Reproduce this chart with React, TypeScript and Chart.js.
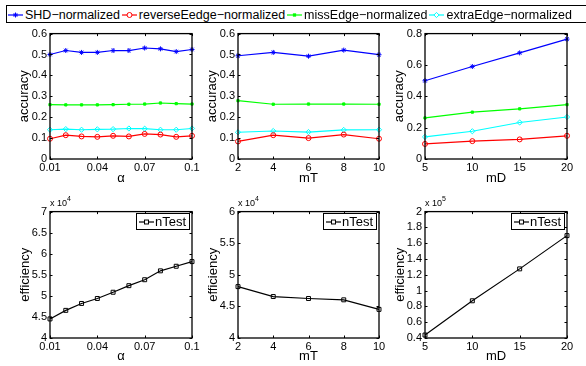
import React, { useEffect, useRef } from "react";
import { Chart, registerables } from "chart.js";

Chart.register(...registerables);

const FONT = "'Liberation Sans', Arial, Helvetica, sans-serif";

// ---------------- data ----------------
const alphaValues = [0.01, 0.02, 0.03, 0.04, 0.05, 0.06, 0.07, 0.08, 0.09, 0.1];
const mTValues = [2, 4, 6, 8, 10];
const mDValues = [5, 10, 15, 20];

const shdAlpha = [0.5, 0.519, 0.51, 0.51, 0.519, 0.519, 0.531, 0.527, 0.514, 0.524];
const reverseAlpha = [0.097, 0.114, 0.108, 0.106, 0.111, 0.108, 0.12, 0.117, 0.106, 0.111];
const missAlpha = [0.26, 0.259, 0.259, 0.259, 0.26, 0.262, 0.263, 0.268, 0.265, 0.263];
const extraAlpha = [0.14, 0.143, 0.14, 0.142, 0.143, 0.146, 0.145, 0.14, 0.14, 0.146];

const shdMT = [0.494, 0.51, 0.492, 0.521, 0.499];
const reverseMT = [0.084, 0.114, 0.1, 0.117, 0.097];
const missMT = [0.279, 0.262, 0.263, 0.263, 0.262];
const extraMT = [0.128, 0.134, 0.129, 0.139, 0.14];

const shdMD = [0.499, 0.59, 0.677, 0.765];
const reverseMD = [0.096, 0.114, 0.125, 0.148];
const missMD = [0.262, 0.299, 0.32, 0.347];
const extraMD = [0.141, 0.177, 0.233, 0.268];

const nTestAlpha = [44530, 46560, 48200, 49380, 50860, 52420, 53830, 55940, 57030, 58130];
const nTestMT = [48130, 46560, 46250, 46040, 44530];
const nTestMD = [43750, 87100, 127500, 169600];

// tick values / labels
const alphaTicks = [0.01, 0.04, 0.07, 0.1];
const alphaTickLabels = ["0.01", "0.04", "0.07", "0.1"];
const mTTicks = [2, 4, 6, 8, 10];
const mTTickLabels = ["2", "4", "6", "8", "10"];
const mDTicks = [5, 10, 15, 20];
const mDTickLabels = ["5", "10", "15", "20"];
const acc06Ticks = [0, 0.1, 0.2, 0.3, 0.4, 0.5, 0.6];
const acc06Labels = ["0", "0.1", "0.2", "0.3", "0.4", "0.5", "0.6"];
const acc08Ticks = [0, 0.2, 0.4, 0.6, 0.8];
const acc08Labels = ["0", "0.2", "0.4", "0.6", "0.8"];
const effAlphaTicks = [40000, 45000, 50000, 55000, 60000, 65000, 70000];
const effAlphaLabels = ["4", "4.5", "5", "5.5", "6", "6.5", "7"];
const effMTTicks = [40000, 45000, 50000, 55000, 60000];
const effMTLabels = ["4", "4.5", "5", "5.5", "6"];
const effMDTicks = [40000, 60000, 80000, 100000, 120000, 140000, 160000, 180000, 200000];
const effMDLabels = ["0.4", "0.6", "0.8", "1", "1.2", "1.4", "1.6", "1.8", "2"];

// ---------------- styles ----------------
type MarkerStyle = "star" | "circle" | "rect" | "rectRot";
type SeriesStyle = { label: string; color: string; marker: MarkerStyle; radius: number; filled: boolean };

const STYLE: Record<string, SeriesStyle> = {
  shd: { label: "SHD−normalized", color: "#0000ff", marker: "star", radius: 2.5, filled: false },
  reverse: { label: "reverseEedge−normalized", color: "#ff0000", marker: "circle", radius: 2.5, filled: false },
  miss: { label: "missEdge−normalized", color: "#00ff00", marker: "rect", radius: 1.6, filled: true },
  extra: { label: "extraEdge−normalized", color: "#00ffff", marker: "rectRot", radius: 2.6, filled: false },
  nTest: { label: "nTest", color: "#000000", marker: "rect", radius: 2.8, filled: false },
};

const COLS = [
  { canvasLeft: 0, canvasWidth: 215, caLeft: 50, caRight: 192 },
  { canvasLeft: 195, canvasWidth: 205, caLeft: 238, caRight: 379 },
  { canvasLeft: 385, canvasWidth: 201, caLeft: 425, caRight: 567 },
];
const ROWS = [
  { canvasTop: 24, canvasHeight: 166, caTop: 31, caBottom: 159, titleCenter: 178.5, yTitleOff: 26 },
  { canvasTop: 202, canvasHeight: 164, caTop: 209, caBottom: 338, titleCenter: 356.5, yTitleOff: 25 },
];

const framePlugin = {
  id: "matlabFrame",
  afterDraw(chart: any) {
    const { ctx, chartArea: a } = chart;
    ctx.save();
    ctx.strokeStyle = "#000";
    ctx.lineWidth = 1.3;
    ctx.strokeRect(a.left, a.top, a.right - a.left, a.bottom - a.top);
    ctx.lineWidth = 1;
    const tl = 2.5;
    const xs = chart.scales.x;
    const ys = chart.scales.y;
    ctx.beginPath();
    xs.ticks.forEach((t: any) => {
      const px = Math.round(xs.getPixelForValue(t.value)) + 0.5;
      ctx.moveTo(px, a.bottom);
      ctx.lineTo(px, a.bottom - tl);
      ctx.moveTo(px, a.top);
      ctx.lineTo(px, a.top + tl);
    });
    ys.ticks.forEach((t: any) => {
      const py = Math.round(ys.getPixelForValue(t.value)) + 0.5;
      ctx.moveTo(a.left, py);
      ctx.lineTo(a.left + tl, py);
      ctx.moveTo(a.right, py);
      ctx.lineTo(a.right - tl, py);
    });
    ctx.stroke();
    ctx.restore();
  },
};

type PanelProps = {
  col: number;
  row: number;
  xValues: number[];
  xTicks: number[];
  xTickLabels: string[];
  xTitle: string;
  yTicks: number[];
  yTickLabels: string[];
  yTitle: string;
  series: { key: string; values: number[] }[];
};

function Panel(p: PanelProps) {
  const ref = useRef<HTMLCanvasElement>(null);
  const col = COLS[p.col];
  const row = ROWS[p.row];
  useEffect(() => {
    const datasets = p.series.map((s) => {
      const st = STYLE[s.key];
      return {
        label: st.label,
        data: p.xValues.map((x, i) => ({ x, y: s.values[i] })),
        borderColor: st.color,
        backgroundColor: st.color,
        borderWidth: 1.2,
        pointStyle: st.marker,
        pointRadius: st.radius,
        pointBorderColor: st.color,
        pointBackgroundColor: st.filled ? st.color : "rgba(0,0,0,0)",
        pointBorderWidth: 1,
        tension: 0,
        fill: false,
        clip: false as any,
      };
    });
    const yTitlePad = col.caLeft - row.yTitleOff - col.canvasLeft - 7.8;
    const xTitlePadBottom = row.canvasTop + row.canvasHeight - row.titleCenter - 7.8;
    const chart = new Chart(ref.current as HTMLCanvasElement, {
      type: "line",
      data: { datasets },
      plugins: [framePlugin],
      options: {
        animation: false,
        responsive: false,
        devicePixelRatio: 1,
        parsing: false as any,
        layout: {
          autoPadding: false,
          padding: {
            left: 0,
            top: row.caTop - row.canvasTop,
            right: col.canvasLeft + col.canvasWidth - col.caRight,
            bottom: 0,
          },
        },
        plugins: { legend: { display: false }, tooltip: { enabled: false } },
        scales: {
          x: {
            type: "linear",
            min: p.xTicks[0],
            max: p.xTicks[p.xTicks.length - 1],
            afterFit: (s: any) => {
              s.height = row.canvasTop + row.canvasHeight - row.caBottom;
            },
            afterBuildTicks: (s: any) => {
              s.ticks = p.xTicks.map((v) => ({ value: v }));
            },
            ticks: {
              autoSkip: false,
              maxRotation: 0,
              padding: 2,
              color: "#000",
              font: { family: FONT, size: 11 },
              callback: (_v: any, i: number) => p.xTickLabels[i],
            },
            grid: { display: false, drawTicks: false },
            border: { display: false },
            title: {
              display: true,
              text: p.xTitle,
              color: "#000",
              font: { family: FONT, size: 13 },
              padding: { top: 0, bottom: xTitlePadBottom },
            },
          },
          y: {
            type: "linear",
            min: p.yTicks[0],
            max: p.yTicks[p.yTicks.length - 1],
            afterFit: (s: any) => {
              s.width = col.caLeft - col.canvasLeft;
            },
            afterBuildTicks: (s: any) => {
              s.ticks = p.yTicks.map((v) => ({ value: v }));
            },
            ticks: {
              autoSkip: false,
              padding: 3,
              color: "#000",
              font: { family: FONT, size: 11 },
              callback: (_v: any, i: number) => p.yTickLabels[i],
            },
            grid: { display: false, drawTicks: false },
            border: { display: false },
            title: {
              display: true,
              text: p.yTitle,
              color: "#000",
              font: { family: FONT, size: 13 },
              padding: { top: yTitlePad, bottom: 0 },
            },
          },
        },
      } as any,
    });
    return () => chart.destroy();
  }, []);
  return (
    <canvas
      ref={ref}
      width={col.canvasWidth}
      height={row.canvasHeight}
      style={{
        position: "absolute",
        left: col.canvasLeft,
        top: row.canvasTop,
        width: col.canvasWidth,
        height: row.canvasHeight,
      }}
    />
  );
}

function Sample({ st, w }: { st: SeriesStyle; w: number }) {
  const cx = w / 2;
  const cy = 5;
  const r = st.radius;
  let m: any = null;
  if (st.marker === "star") {
    const d = r * Math.SQRT1_2;
    m = (
      <path
        d={`M${cx - r} ${cy}H${cx + r}M${cx} ${cy - r}V${cy + r}M${cx - d} ${cy - d}L${cx + d} ${cy + d}M${cx - d} ${cy + d}L${cx + d} ${cy - d}`}
        stroke={st.color}
        strokeWidth={1}
      />
    );
  } else if (st.marker === "circle") {
    m = <circle cx={cx} cy={cy} r={r} fill="#fff" stroke={st.color} strokeWidth={1} />;
  } else if (st.marker === "rect") {
    const s = r * Math.SQRT1_2;
    m = <rect x={cx - s} y={cy - s} width={2 * s} height={2 * s} fill={st.filled ? st.color : "#fff"} stroke={st.color} strokeWidth={1} />;
  } else {
    m = (
      <polygon
        points={`${cx},${cy - r} ${cx + r},${cy} ${cx},${cy + r} ${cx - r},${cy}`}
        fill={st.filled ? st.color : "#fff"}
        stroke={st.color}
        strokeWidth={1}
      />
    );
  }
  return (
    <svg width={w} height={10} style={{ display: "block", flex: "none" }}>
      <line x1={0} y1={cy} x2={w} y2={cy} stroke={st.color} strokeWidth={1.2} />
      {m}
    </svg>
  );
}

function NTestLegend({ col }: { col: number }) {
  const c = COLS[col];
  return (
    <div
      style={{
        position: "absolute",
        left: c.caRight - 2 - 54,
        top: 213,
        width: 54,
        height: 17,
        boxSizing: "border-box",
        border: "1px solid #000",
        background: "#fff",
        display: "flex",
        alignItems: "center",
        paddingLeft: 2,
        fontFamily: FONT,
        fontSize: 13,
        lineHeight: "15px",
        color: "#000",
      }}
    >
      <Sample st={STYLE.nTest} w={15} />
      <span style={{ marginLeft: 1 }}>{STYLE.nTest.label}</span>
    </div>
  );
}

function Exponent({ col, exp }: { col: number; exp: string }) {
  const c = COLS[col];
  return (
    <>
      <span style={{ position: "absolute", left: c.caLeft, top: 199, fontSize: 9, lineHeight: "9px", fontFamily: FONT, color: "#000", whiteSpace: "nowrap" }}>
        x 10
      </span>
      <span style={{ position: "absolute", left: c.caLeft + 17, top: 195, fontSize: 7, lineHeight: "7px", fontFamily: FONT, color: "#000" }}>
        {exp}
      </span>
    </>
  );
}

export default function App() {
  const accSeries = (a: number[], b: number[], c: number[], d: number[]) => [
    { key: "shd", values: a },
    { key: "reverse", values: b },
    { key: "miss", values: c },
    { key: "extra", values: d },
  ];
  return (
    <div
      style={{
        position: "absolute",
        left: 0,
        top: 0,
        width: 586,
        height: 366,
        overflow: "hidden",
        background: "#fff",
        fontFamily: FONT,
      }}
    >
      <Panel col={0} row={0} xValues={alphaValues} xTicks={alphaTicks} xTickLabels={alphaTickLabels} xTitle="α"
        yTicks={acc06Ticks} yTickLabels={acc06Labels} yTitle="accuracy" series={accSeries(shdAlpha, reverseAlpha, missAlpha, extraAlpha)} />
      <Panel col={1} row={0} xValues={mTValues} xTicks={mTTicks} xTickLabels={mTTickLabels} xTitle="mT"
        yTicks={acc06Ticks} yTickLabels={acc06Labels} yTitle="accuracy" series={accSeries(shdMT, reverseMT, missMT, extraMT)} />
      <Panel col={2} row={0} xValues={mDValues} xTicks={mDTicks} xTickLabels={mDTickLabels} xTitle="mD"
        yTicks={acc08Ticks} yTickLabels={acc08Labels} yTitle="accuracy" series={accSeries(shdMD, reverseMD, missMD, extraMD)} />
      <Panel col={0} row={1} xValues={alphaValues} xTicks={alphaTicks} xTickLabels={alphaTickLabels} xTitle="α"
        yTicks={effAlphaTicks} yTickLabels={effAlphaLabels} yTitle="efficiency" series={[{ key: "nTest", values: nTestAlpha }]} />
      <Panel col={1} row={1} xValues={mTValues} xTicks={mTTicks} xTickLabels={mTTickLabels} xTitle="mT"
        yTicks={effMTTicks} yTickLabels={effMTLabels} yTitle="efficiency" series={[{ key: "nTest", values: nTestMT }]} />
      <Panel col={2} row={1} xValues={mDValues} xTicks={mDTicks} xTickLabels={mDTickLabels} xTitle="mD"
        yTicks={effMDTicks} yTickLabels={effMDLabels} yTitle="efficiency" series={[{ key: "nTest", values: nTestMD }]} />

      <Exponent col={0} exp="4" />
      <Exponent col={1} exp="4" />
      <Exponent col={2} exp="5" />
      <NTestLegend col={0} />
      <NTestLegend col={1} />
      <NTestLegend col={2} />

      <div
        style={{
          position: "absolute",
          left: 6,
          top: 5,
          width: 620,
          height: 18,
          boxSizing: "border-box",
          border: "1px solid #000",
          background: "#fff",
        }}
      />
      <div
        style={{
          position: "absolute",
          left: 8,
          top: 6,
          height: 17,
          display: "flex",
          alignItems: "center",
          whiteSpace: "nowrap",
          fontFamily: FONT,
          fontSize: 12.5,
          color: "#000",
        }}
      >
        {["shd", "reverse", "miss", "extra"].map((k) => (
          <div key={k} style={{ display: "flex", alignItems: "center", marginRight: 2 }}>
            <Sample st={STYLE[k]} w={15} />
            <span style={{ marginLeft: 2 }}>{STYLE[k].label}</span>
          </div>
        ))}
      </div>
    </div>
  );
}
